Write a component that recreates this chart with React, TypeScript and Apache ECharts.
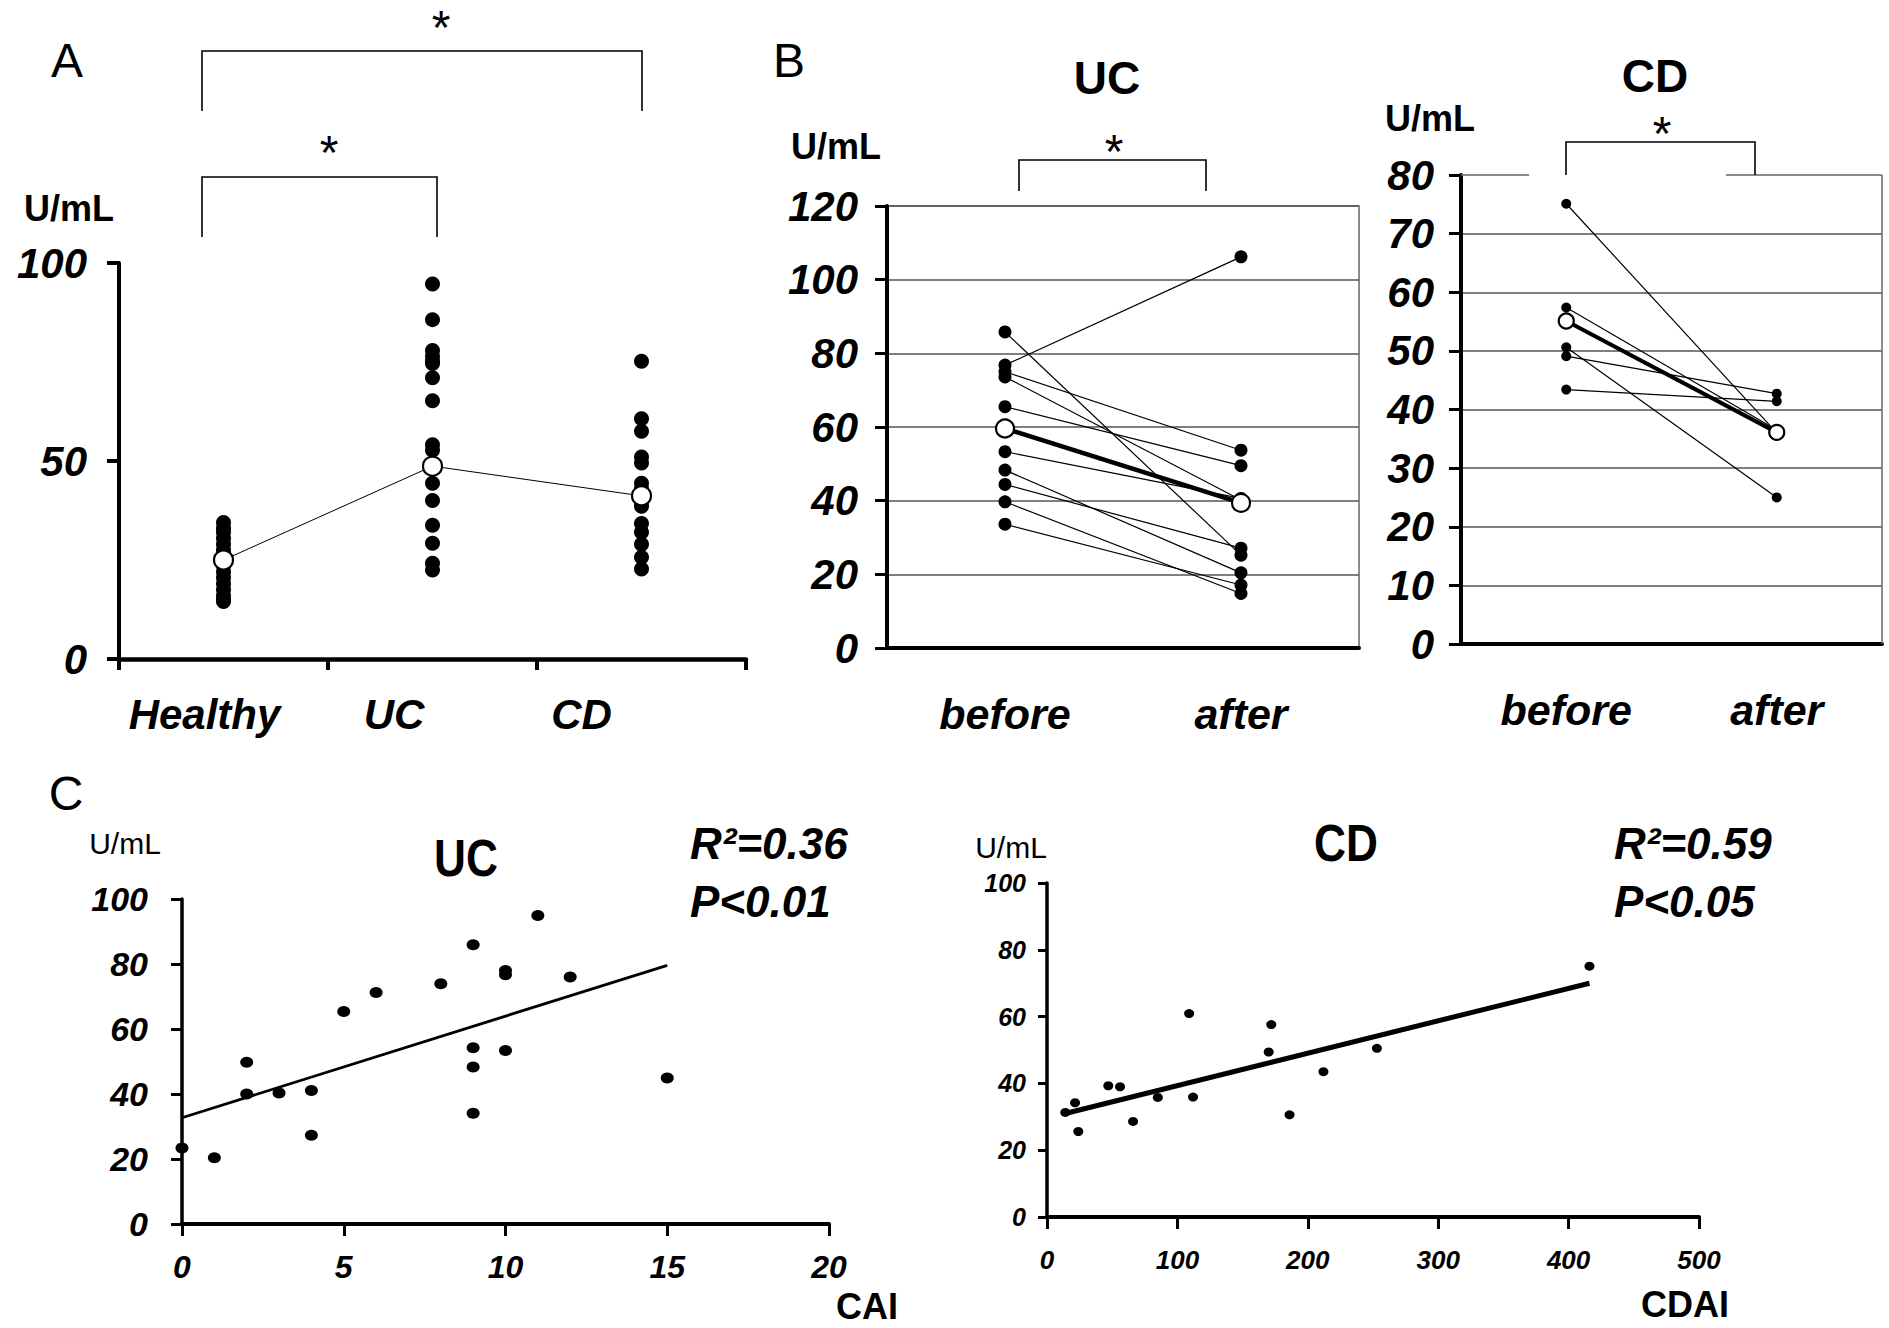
import React, { useEffect, useRef } from 'react';
import * as echarts from 'echarts';

const W = 1889;
const H = 1328;
const FONT = "'Liberation Sans', Arial, Helvetica, sans-serif";

// ---------- Panel A ----------
const groupsA = ['Healthy', 'UC', 'CD'];
const healthyVals = [34.5, 33, 32, 30.5, 29, 27.5, 26.5, 25, 23.5, 22, 20.5, 19, 17.5, 16, 15, 14.5];
const ucValsA = [94.7, 85.7, 77.9, 76.4, 75.2, 74.6, 71, 65.2, 54.1, 52.7, 48, 44.4, 40, 33.8, 29.2, 24.2, 22.5];
const cdValsA = [75.2, 60.7, 57.5, 51, 49.5, 44.4, 43, 39.5, 38.6, 34.2, 32, 29, 25.7, 22.7];
const meansA = [25, 48.7, 41.2];

// ---------- Panel B ----------
const phases = ['before', 'after'];
const ucBefore = [85.8, 76.8, 75, 73.6, 65.5, 53.3, 48.3, 44.4, 39.7, 33.6];
const ucAfter = [25.2, 106.2, 53.7, 40.2, 49.5, 40.6, 20.4, 27.1, 14.8, 17.1];
const ucMeanB = [59.6, 39.4];
const cdBefore = [75.1, 57.4, 50.6, 49.1, 43.4];
const cdAfter = [36, 36.5, 25, 42.7, 41.4];
const cdMeanB = [55.1, 36.1];

// ---------- Panel C ----------
const cai = [0, 1, 2, 2, 3, 4, 4, 5, 6, 8, 9, 9, 9, 9, 10, 10, 10, 11, 12, 15];
const ucValsC = [23.4, 20.4, 49.8, 40, 40.3, 41.1, 27.3, 65.4, 71.2, 73.9, 85.9, 54.2, 48.3, 34.1, 78, 76.7, 53.4, 94.9, 76, 44.9];
const ucFit = [[0, 32.7], [15, 79.6]];
const cdai = [14, 21.5, 24, 47, 56, 66, 85, 109, 112, 170, 172, 186, 212, 253, 416];
const cdValsC = [31.3, 34.2, 25.6, 39.3, 39, 28.6, 35.8, 60.9, 35.9, 49.4, 57.6, 30.6, 43.5, 50.5, 75.1];
const cdFit = [[14, 31], [416, 70]];

const bi = (size: number) => ({
  fontFamily: FONT, fontSize: size, fontWeight: 'bold', fontStyle: 'italic', color: '#000',
});
const blackLine = (w: number) => ({ show: true, onZero: false, lineStyle: { color: '#000', width: w } });
const tick = (len: number, w: number) => ({ show: true, length: len, inside: false, lineStyle: { color: '#000', width: w } });

const txt = (x: number, y: number, text: string, size: number, weight = 'normal', style = 'normal', align = 'center', scaleX = 1) => ({
  type: 'text', x, y, scaleX, z: 20,
  style: {
    text, fontSize: size, fontWeight: weight, fontStyle: style, fontFamily: FONT,
    fill: '#000', textAlign: align, textVerticalAlign: 'middle',
  },
});
const bracket = (x1: number, x2: number, yTop: number, yBot: number) => ({
  type: 'polyline', z: 20,
  shape: { points: [[x1, yBot], [x1, yTop], [x2, yTop], [x2, yBot]] },
  style: { stroke: '#000', lineWidth: 1.6, fill: 'none' },
});
const gline = (x1: number, y1: number, x2: number, y2: number, color = '#666', w = 1.5) => ({
  type: 'line', z: 1,
  shape: { x1, y1, x2, y2 },
  style: { stroke: color, lineWidth: w },
});

function buildOption() {
  const lblA = bi(42);
  const pairSeries = (before: number[], after: number[], axis: number, size: number) =>
    before.map((b, i) => ({
      type: 'line', xAxisIndex: axis, yAxisIndex: axis,
      data: [[0, b], [1, after[i]]],
      symbol: 'circle', symbolSize: size,
      itemStyle: { color: '#000', opacity: 1 },
      lineStyle: { color: '#000', width: 1.2 },
      z: 3, silent: true,
    }));
  const meanSeries = (vals: number[], axis: number, size: number, lw: number) => ({
    type: 'line', xAxisIndex: axis, yAxisIndex: axis,
    data: vals.map((v, i) => [i, v]),
    symbol: 'circle', symbolSize: size,
    itemStyle: { color: '#fff', borderColor: '#000', borderWidth: 2.2, opacity: 1 },
    lineStyle: { color: '#000', width: lw },
    z: 6, silent: true,
  });

  return {
    animation: false,
    backgroundColor: '#fff',
    grid: [
      { left: 119, top: 263, width: 627, height: 396 },
      { left: 887, top: 206, width: 472, height: 442, show: true, borderColor: '#666', borderWidth: 1.5 },
      { left: 1461, top: 175, width: 421, height: 469 },
      { left: 182, top: 899, width: 647, height: 325 },
      { left: 1047, top: 883, width: 652, height: 334 },
    ],
    xAxis: [
      {
        gridIndex: 0, type: 'category', data: groupsA, boundaryGap: true,
        axisLine: blackLine(4.5),
        axisTick: { ...tick(11, 4), alignWithLabel: false, interval: 0 },
        axisLabel: {
          interval: 0, margin: 34,
          formatter: (v: string) => `{${v === 'Healthy' ? 'h' : v === 'UC' ? 'u' : 'c'}|${v}}`,
          rich: {
            h: { ...lblA, padding: [0, 38, 0, 0] },
            u: { ...lblA, padding: [0, 77, 0, 0] },
            c: { ...lblA, padding: [0, 120, 0, 0] },
          },
        },
        splitLine: { show: false },
      },
      {
        gridIndex: 1, type: 'category', data: phases, boundaryGap: true,
        axisLine: blackLine(4), axisTick: { show: false },
        axisLabel: { ...bi(43), margin: 44, interval: 0 },
        splitLine: { show: false },
      },
      {
        gridIndex: 2, type: 'category', data: phases, boundaryGap: true,
        axisLine: blackLine(4), axisTick: { show: false },
        axisLabel: { ...bi(43), margin: 44, interval: 0 },
        splitLine: { show: false },
      },
      {
        gridIndex: 3, type: 'value', min: 0, max: 20, interval: 5,
        axisLine: blackLine(4), axisTick: tick(12, 3),
        axisLabel: { ...bi(32), margin: 27 },
        splitLine: { show: false },
      },
      {
        gridIndex: 4, type: 'value', min: 0, max: 500, interval: 100,
        axisLine: blackLine(4), axisTick: tick(12, 3),
        axisLabel: { ...bi(26), margin: 30 },
        splitLine: { show: false },
      },
    ],
    yAxis: [
      {
        gridIndex: 0, type: 'value', min: 0, max: 100, interval: 50,
        axisLine: blackLine(4), axisTick: tick(12, 4),
        axisLabel: { ...bi(42), margin: 32 },
        splitLine: { show: false },
      },
      {
        gridIndex: 1, type: 'value', min: 0, max: 120, interval: 20,
        axisLine: blackLine(4), axisTick: tick(12, 3),
        axisLabel: { ...bi(42), margin: 29 },
        splitLine: { show: true, lineStyle: { color: '#555', width: 1.5 } },
      },
      {
        gridIndex: 2, type: 'value', min: 0, max: 80, interval: 10,
        axisLine: blackLine(4), axisTick: tick(12, 3),
        axisLabel: { ...bi(42), margin: 27 },
        splitLine: { show: true, showMaxLine: false, lineStyle: { color: '#555', width: 1.5 } },
      },
      {
        gridIndex: 3, type: 'value', min: 0, max: 100, interval: 20,
        axisLine: blackLine(3.5), axisTick: tick(11, 3),
        axisLabel: { ...bi(34), margin: 34 },
        splitLine: { show: false },
      },
      {
        gridIndex: 4, type: 'value', min: 0, max: 100, interval: 20,
        axisLine: blackLine(3.5), axisTick: tick(9, 3),
        axisLabel: { ...bi(25), margin: 21 },
        splitLine: { show: false },
      },
    ],
    series: [
      // Panel A dots
      {
        type: 'scatter', xAxisIndex: 0, yAxisIndex: 0,
        data: [
          ...healthyVals.map((v) => [0, v]),
          ...ucValsA.map((v) => [1, v]),
          ...cdValsA.map((v) => [2, v]),
        ],
        symbol: 'circle', symbolSize: 15, itemStyle: { color: '#000', opacity: 1 }, z: 3, silent: true,
      },
      meanSeries(meansA, 0, 19, 1),
      // Panel B UC
      ...pairSeries(ucBefore, ucAfter, 1, 13),
      meanSeries(ucMeanB, 1, 18, 4.5),
      // Panel B CD
      ...pairSeries(cdBefore, cdAfter, 2, 10),
      meanSeries(cdMeanB, 2, 15, 4),
      // Panel C UC
      {
        type: 'scatter', xAxisIndex: 3, yAxisIndex: 3,
        data: cai.map((x, i) => [x, ucValsC[i]]),
        symbol: 'circle', symbolSize: [13, 11], itemStyle: { color: '#000', opacity: 1 }, z: 3, silent: true, clip: false,
      },
      {
        type: 'line', xAxisIndex: 3, yAxisIndex: 3, data: ucFit, showSymbol: false, symbol: 'none',
        lineStyle: { color: '#000', width: 2.8 }, z: 4, silent: true,
      },
      // Panel C CD
      {
        type: 'scatter', xAxisIndex: 4, yAxisIndex: 4,
        data: cdai.map((x, i) => [x, cdValsC[i]]),
        symbol: 'circle', symbolSize: [10, 9], itemStyle: { color: '#000', opacity: 1 }, z: 3, silent: true, clip: false,
      },
      {
        type: 'line', xAxisIndex: 4, yAxisIndex: 4, data: cdFit, showSymbol: false, symbol: 'none',
        lineStyle: { color: '#000', width: 5 }, z: 4, silent: true,
      },
    ],
    graphic: [
      // Panel letters
      txt(67, 60, 'A', 48),
      txt(789, 60, 'B', 48),
      txt(66, 793, 'C', 48),
      // Unit labels
      txt(69, 208, 'U/mL', 36, 'bold'),
      txt(836, 146, 'U/mL', 36, 'bold'),
      txt(1430, 118, 'U/mL', 36, 'bold'),
      txt(125, 843, 'U/mL', 30),
      txt(1011, 847, 'U/mL', 30),
      // Titles
      txt(1107, 78, 'UC', 46, 'bold'),
      txt(1655, 76, 'CD', 46, 'bold'),
      txt(466, 858, 'UC', 52, 'bold', 'normal', 'center', 0.85),
      txt(1346, 843, 'CD', 52, 'bold', 'normal', 'center', 0.85),
      // Stats
      txt(690, 843, 'R²=0.36', 44, 'bold', 'italic', 'left'),
      txt(690, 901, 'P<0.01', 44, 'bold', 'italic', 'left'),
      txt(1614, 843, 'R²=0.59', 44, 'bold', 'italic', 'left'),
      txt(1614, 901, 'P<0.05', 44, 'bold', 'italic', 'left'),
      // Axis titles
      txt(867, 1306, 'CAI', 36, 'bold'),
      txt(1685, 1304, 'CDAI', 36, 'bold'),
      // Significance brackets
      bracket(202, 642, 51, 111),
      bracket(202, 437, 177, 237),
      bracket(1019, 1206, 160, 191),
      bracket(1566, 1755, 142, 175),
      txt(441, 27, '*', 48),
      txt(329, 152, '*', 48),
      txt(1114, 151, '*', 48),
      txt(1662, 133, '*', 48),
      // Panel B CD frame (top edge broken under the bracket, right edge)
      gline(1461, 175, 1529, 175),
      gline(1726, 175, 1882, 175),
      gline(1882, 175, 1882, 644),
    ],
  };
}

export default function App() {
  const ref = useRef<HTMLDivElement>(null);
  useEffect(() => {
    const chart = echarts.init(ref.current!, null, { renderer: 'svg' });
    chart.setOption(buildOption() as any);
    return () => chart.dispose();
  }, []);
  return (
    <div
      ref={ref}
      style={{ position: 'absolute', left: 0, top: 0, width: W, height: H, background: '#fff' }}
    />
  );
}
